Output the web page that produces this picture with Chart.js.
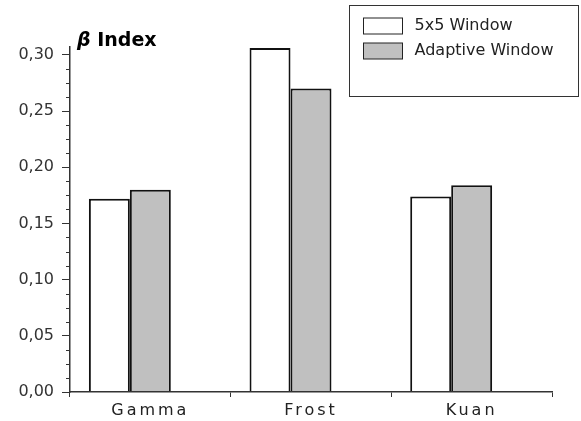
<!DOCTYPE html>
<html>
<head>
<meta charset="utf-8">
<script src="https://cdn.jsdelivr.net/npm/chart.js@4"></script>
<style>
    body { margin: 0; background: #fff; }
    #wrap { width: 581px; height: 421px; position: relative; }
</style>
</head>
<body>
<div id="wrap"><canvas id="bar-chart"></canvas></div>
<script>
const categories = ["Gamma", "Frost", "Kuan"];
const seriesLabels = ["5x5 Window", "Adaptive Window"];
const window5x5 = [0.172, 0.306, 0.174];
const adaptiveWindow = [0.180, 0.270, 0.184];
const spacer = [null, null, null]; // empty third slot, pushes the pair left like in the original
const yMax = 0.307;
const majorStep = 0.05;
const minorStep = 0.0125;

const FONT = "'DejaVu Sans', sans-serif";

function formatTick(value) {
    return value.toFixed(2).replace(".", ",");
}

// minor ticks, "β Index" title and the boxed legend
const extras = {
    id: "extras",
    beforeDraw(chart) {
        chart.ctx.letterSpacing = "0px";
    },
    afterDatasetsDraw(chart) {
        chart.ctx.letterSpacing = "3px"; // x labels are drawn after this (ticks.z = 1)
    },
    afterDraw(chart) {
        const ctx = chart.ctx;
        const area = chart.chartArea;
        const y = chart.scales.y;
        ctx.save();
        ctx.letterSpacing = "0px";

        // minor ticks on the y axis
        ctx.strokeStyle = "#333";
        ctx.lineWidth = 1;
        for (let v = minorStep; v < yMax; v += minorStep) {
            const r = v / majorStep;
            if (Math.abs(r - Math.round(r)) < 1e-6) continue;
            const py = Math.round(y.getPixelForValue(v)) + 0.5;
            ctx.beginPath();
            ctx.moveTo(area.left - 4, py);
            ctx.lineTo(area.left, py);
            ctx.stroke();
        }

        // title
        ctx.fillStyle = "#000";
        ctx.textBaseline = "alphabetic";
        ctx.textAlign = "left";
        let tx = area.left + 7;
        const ty = area.top - 1;
        ctx.font = "italic bold 19px " + FONT;
        ctx.fillText("β", tx, ty);
        tx += ctx.measureText("β ").width;
        ctx.font = "bold 19px " + FONT;
        ctx.fillText("Index", tx, ty);

        // legend box
        const bx = chart.width - 231.5, by = 5.5, bw = 229, bh = 91;
        ctx.strokeStyle = "#333";
        ctx.lineWidth = 1;
        ctx.strokeRect(bx, by, bw, bh);
        ctx.font = "16px " + FONT;
        ctx.textBaseline = "middle";
        for (let i = 0; i < seriesLabels.length; i++) {
            const ds = chart.data.datasets[i];
            const sy = by + 12.5 + i * 25;
            ctx.fillStyle = ds.backgroundColor;
            ctx.fillRect(bx + 14, sy, 39, 16);
            ctx.strokeStyle = "#222";
            ctx.strokeRect(bx + 14, sy, 39, 16);
            ctx.fillStyle = "#222";
            ctx.fillText(ds.label, bx + 65, sy + 8);
        }
        ctx.restore();
    }
};

new Chart(document.getElementById("bar-chart"), {
    type: "bar",
    data: {
        labels: categories,
        datasets: [
            {
                label: seriesLabels[0],
                data: window5x5,
                backgroundColor: "#ffffff",
                borderColor: "#111111",
                borderWidth: 2,
            },
            {
                label: seriesLabels[1],
                data: adaptiveWindow,
                backgroundColor: "#c0c0c0",
                borderColor: "#111111",
                borderWidth: 2,
            },
            {
                label: "",
                data: spacer,
            },
        ],
    },
    options: {
        responsive: true,
        maintainAspectRatio: false,
        animation: false,
        layout: {
            padding: { left: 0, top: 47, right: 29, bottom: 0 },
        },
        plugins: {
            legend: { display: false },
            title: { display: false },
            tooltip: { enabled: false },
        },
        datasets: {
            bar: {
                categoryPercentage: 0.765,
                barPercentage: 1.0,
            },
        },
        scales: {
            x: {
                grid: {
                    offset: true,
                    drawOnChartArea: false,
                    tickLength: 5,
                    color: "#333",
                },
                border: { color: "#333", width: 1.5, z: 1 },
                ticks: {
                    z: 1,
                    color: "#222",
                    padding: 4,
                    font: { family: FONT, size: 16 },
                },
                afterFit: function (scale) {
                    scale.height = 29;
                },
            },
            y: {
                min: 0,
                max: yMax,
                grid: {
                    drawOnChartArea: false,
                    tickLength: 8,
                    color: "#333",
                },
                border: { color: "#333", width: 1.5 },
                ticks: {
                    stepSize: majorStep,
                    includeBounds: false,
                    padding: 8,
                    color: "#333",
                    font: { family: FONT, size: 16 },
                    callback: function (value) {
                        return formatTick(value);
                    },
                },
                afterFit: function (scale) {
                    scale.width = 70;
                },
            },
        },
    },
    plugins: [extras],
});
</script>
</body>
</html>
